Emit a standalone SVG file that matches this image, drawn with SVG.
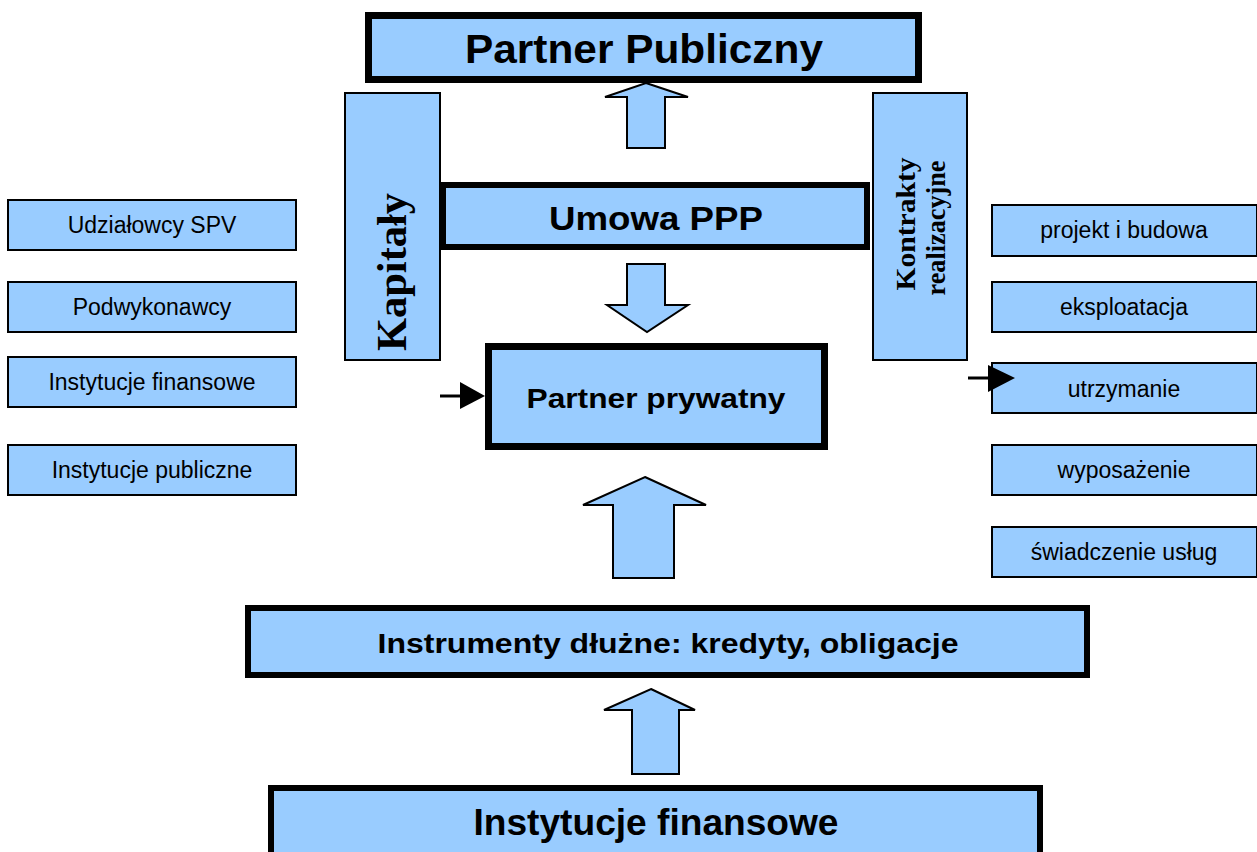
<svg xmlns="http://www.w3.org/2000/svg" width="1257" height="852" viewBox="0 0 1257 852">
<style>
.b{fill:#99CCFF;stroke:#000}
.thick{stroke-width:7}
.thin{stroke-width:2}
.blk{fill:#99CCFF;stroke:#000;stroke-width:2}
.h{font-family:"Liberation Sans",Arial,sans-serif;font-weight:bold;fill:#000;text-anchor:middle}
.s{font-family:"Liberation Sans",Arial,sans-serif;font-size:23px;fill:#000;text-anchor:middle}
.t{font-family:"Liberation Serif","Times New Roman",serif;font-weight:bold;fill:#000;text-anchor:middle}
.ln{stroke:#000;stroke-width:3;fill:none}
.hd{fill:#000}
</style>
<rect width="1257" height="852" fill="#fff"/>

<g id="kapitaly">
<rect class="b thin" x="345" y="93" width="95" height="267"/>
<text class="t" font-size="42" transform="translate(406,272) rotate(-90)" textLength="158" lengthAdjust="spacingAndGlyphs">Kapitały</text>
</g>
<g id="kontrakty">
<rect class="b thin" x="873" y="93" width="94" height="267"/>
<text class="t" font-size="27" transform="translate(915,224) rotate(-90)" textLength="133" lengthAdjust="spacingAndGlyphs">Kontrakty</text>
<text class="t" font-size="27" transform="translate(945,228) rotate(-90)" textLength="135" lengthAdjust="spacingAndGlyphs">realizacyjne</text>
</g>

<g id="partner-publiczny">
<rect class="b thick" x="368.5" y="15.5" width="550" height="64"/>
<text class="h" x="644" y="63" font-size="40" textLength="358" lengthAdjust="spacingAndGlyphs">Partner Publiczny</text>
</g>
<g id="umowa">
<rect class="b" stroke-width="6" x="443" y="185" width="424" height="62"/>
<text class="h" x="656" y="230" font-size="33" textLength="214" lengthAdjust="spacingAndGlyphs">Umowa PPP</text>
</g>
<g id="partner-prywatny">
<rect class="b thick" x="488.5" y="346.5" width="336" height="100"/>
<text class="h" x="656" y="408" font-size="28" textLength="259" lengthAdjust="spacingAndGlyphs">Partner prywatny</text>
</g>
<g id="instrumenty">
<rect class="b" stroke-width="6" x="248" y="608" width="839" height="67"/>
<text class="h" x="668" y="653" font-size="27" textLength="581" lengthAdjust="spacingAndGlyphs">Instrumenty dłużne: kredyty, obligacje</text>
</g>
<g id="instytucje-finansowe-main">
<rect class="b" stroke-width="6" x="271" y="788" width="769" height="72"/>
<text class="h" x="656" y="835" font-size="36" textLength="365" lengthAdjust="spacingAndGlyphs">Instytucje finansowe</text>
</g>

<g id="left-udzialowcy"><rect class="b thin" x="8" y="200" width="288" height="50"/><text class="s" x="152" y="233">Udziałowcy SPV</text></g>
<g id="left-podwykonawcy"><rect class="b thin" x="8" y="282" width="288" height="50"/><text class="s" x="152" y="315">Podwykonawcy</text></g>
<g id="left-instytucje-fin"><rect class="b thin" x="8" y="357" width="288" height="50"/><text class="s" x="152" y="390">Instytucje finansowe</text></g>
<g id="left-instytucje-pub"><rect class="b thin" x="8" y="445" width="288" height="50"/><text class="s" x="152" y="478">Instytucje publiczne</text></g>

<g id="r-projekt"><rect class="b thin" x="992" y="205" width="265" height="51"/><text class="s" x="1124" y="238">projekt i budowa</text></g>
<g id="r-eksploatacja"><rect class="b thin" x="992" y="282" width="265" height="50"/><text class="s" x="1124" y="315">eksploatacja</text></g>
<g id="r-utrzymanie"><rect class="b thin" x="992" y="363" width="265" height="50"/><text class="s" x="1124" y="397">utrzymanie</text></g>
<g id="r-wyposazenie"><rect class="b thin" x="992" y="445" width="265" height="50"/><text class="s" x="1124" y="478">wyposażenie</text></g>
<g id="r-swiadczenie"><rect class="b thin" x="992" y="527" width="265" height="50"/><text class="s" x="1124" y="560">świadczenie usług</text></g>

<g id="connectors">
<polygon class="blk" points="646,83 688,97 665,97 665,148 627,148 627,97 605,97"/>
<polygon class="blk" points="627,264 665,264 665,305 688,305 647,332 607,305 627,305"/>
<polygon class="blk" points="645,477 706,505 674,505 674,578 613,578 613,505 583,505"/>
<polygon class="blk" points="651,689 695,710 679,710 679,774 632,774 632,710 604,710"/>
<line class="ln" x1="440" y1="396" x2="462" y2="396"/>
<polygon class="hd" points="460,382 485,396 460,409"/>
<line class="ln" x1="968" y1="378" x2="990" y2="378"/>
<polygon class="hd" points="988,365 1015,378 988,392"/>
</g>
</svg>
